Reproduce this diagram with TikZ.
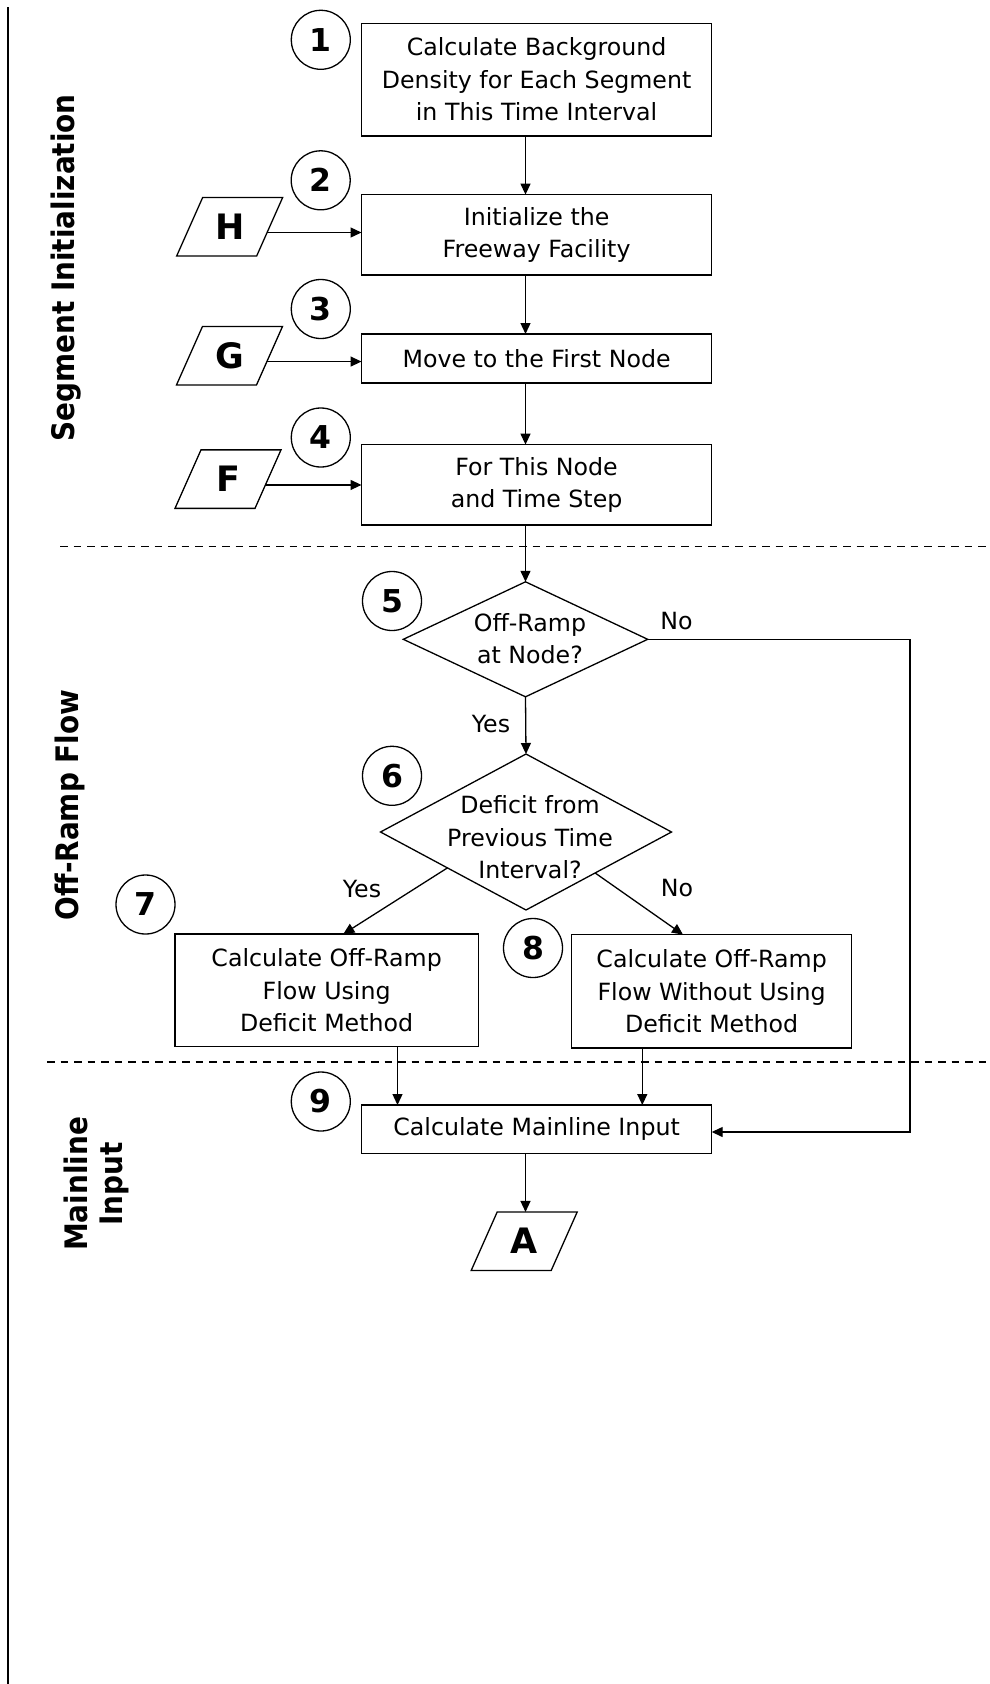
\documentclass[tikz,border=0pt]{standalone}
\usepackage{fontspec}
\setmainfont{DejaVu Sans}
\usetikzlibrary{arrows.meta,calc}

% type sizes (1pt = one unit of the drawing grid)
\newcommand\bodytext{\fontsize{23.7}{32.5}\selectfont}
\newcommand\numtext{\fontsize{31.5}{36}\selectfont\bfseries}
\newcommand\lettertext{\fontsize{35}{40}\selectfont\bfseries}
\newcommand\lanetext{\fontsize{31}{35.5}\selectfont\bfseries}
\newcommand\lanebox[1]{\scalebox{0.9}[1]{#1}}

\begin{document}
\begin{tikzpicture}[x=1pt,y=-1pt,
  every node/.style={inner sep=0pt, outer sep=0pt},
  lw/.style={line width=1.3pt},
  arr/.style={lw, -{Triangle[length=11pt,width=10pt]}},
  proc/.style={draw, lw, align=center, font=\bodytext},
  stepnum/.style={circle, draw, lw, minimum size=59pt, font=\numtext},
  io/.style={minimum width=106pt, minimum height=58.5pt, font=\lettertext},
  choice/.style={align=center, font=\bodytext},
  answer/.style={font=\bodytext},
  lane/.style={rotate=90, anchor=base, align=center, font=\lanetext},
  divider/.style={line width=1.2pt, dash pattern=on 7.5pt off 6pt}]

\fill[white] (0,0) rectangle (989,1684);
\useasboundingbox (0,0) rectangle (989,1684);

% lane rule and lane dividers
\draw[line width=2.3pt] (8,7) -- (8,1684);
\draw[divider] (60,546.4) -- (989,546.4);
\draw[divider] (47,1062) -- (989,1062);

% lane titles (base anchor of a two-line title sits on its last line)
\node[lane] (laneA) at (74.4,268) {\lanebox{Segment Initialization}};
\node[lane] (laneB) at (78.9,805) {\lanebox{Off-Ramp Flow}};
\node[lane] (laneC) at (122.5,1184) {\lanebox{Mainline}\\\lanebox{Input}};

% process boxes
\node[proc, minimum width=350.2pt, minimum height=112.8pt] (box1) at (536.6,79.6)
  {Calculate Background\\Density for Each Segment\\in This Time Interval};
\node[proc, minimum width=350.2pt, minimum height=80.4pt] (box2) at (536.6,234.8)
  {Initialize the\\Freeway Facility};
\node[proc, minimum width=350.2pt, minimum height=49pt] (box3) at (536.6,358.5)
  {Move to the First Node};
\node[proc, minimum width=350.2pt, minimum height=80.4pt] (box4) at (536.6,484.8)
  {For This Node\\and Time Step};
\node[proc, minimum width=303.3pt, minimum height=112.7pt] (box7) at (326.65,990.35)
  {Calculate Off-Ramp\\Flow Using\\Deficit Method};
\node[proc, minimum width=280.1pt, minimum height=113.3pt] (box8) at (711.65,991.25)
  {Calculate Off-Ramp\\Flow Without Using\\Deficit Method};
\node[proc, minimum width=350.2pt, minimum height=48.3pt] (box9) at (536.6,1129.15)
  {Calculate Mainline Input};

% decisions
\node[minimum width=244.4pt, minimum height=115pt] (d5) at (525.5,639.3) {};
\node[minimum width=291pt, minimum height=156pt] (d6) at (526,832) {};
\foreach \d in {d5,d6}
  \draw[lw] (\d.north) -- (\d.east) -- (\d.south) -- (\d.west) -- cycle;
\node[choice] (d5text) at (530,638.6) {Off-Ramp\\at Node?};
\node[choice] (d6text) at (530,837.4) {Deficit from\\Previous Time\\Interval?};

% data inputs and off-page connector
\node[io] (H) at (229.7,226.65) {H};
\node[io] (G) at (229.5,355.7) {G};
\node[io] (F) at (228,479.1) {F};
\node[io] (A) at (524.2,1241.2) {A};
\foreach \n in {H,G,F,A}
  \draw[lw] ($(\n.north west)+(26,0)$) -- (\n.north east)
    -- ($(\n.south east)+(-26,0)$) -- (\n.south west) -- cycle;

% step numbers
\node[stepnum] (n1) at (320.8,39.8) {1};
\node[stepnum] (n2) at (320.7,180.3) {2};
\node[stepnum] (n3) at (320.8,309) {3};
\node[stepnum] (n4) at (320.8,437.5) {4};
\node[stepnum] (n5) at (392,601) {5};
\node[stepnum] (n6) at (392,775.8) {6};
\node[stepnum] (n7) at (145.5,904.5) {7};
\node[stepnum] (n8) at (533,948) {8};
\node[stepnum] (n9) at (320.8,1101.5) {9};

% branch labels
\node[answer] (yes5) at (491,724) {Yes};
\node[answer] (no5) at (676.5,621) {No};
\node[answer] (yes6) at (362,888.7) {Yes};
\node[answer] (no6) at (677,888) {No};

% main spine
\coordinate (spine) at (525.5,0);
\draw[arr] (box1.south -| spine) -- (box2.north -| spine);
\draw[arr] (box2.south -| spine) -- (box3.north -| spine);
\draw[arr] (box3.south -| spine) -- (box4.north -| spine);
\draw[arr] (box4.south -| spine) -- (d5.north);
\draw[arr] (d5.south) -- (d6.north);
\draw[arr] (box9.south -| spine) -- (A.north -| spine);

% inputs feeding the first steps
\foreach \n/\b in {H/box2,G/box3,F/box4} {
  \coordinate (\n out) at ($(\n.north east)!0.6!(\n.south east)+(-15.6,0)$);
  \draw[arr] (\n out) -- (\n out -| \b.west);
}

% branches of the deficit test
\draw[arr] ($(d6.west)!0.46!(d6.south)$) -- ($(box7.north west)+(168.3,0)$);
\draw[arr] ($(d6.east)!0.525!(d6.south)$) -- ($(box8.north west)+(111.4,0)$);

% off-ramp results into the mainline step
\coordinate (drop7) at (397.5,0);
\coordinate (drop8) at (642.3,0);
\draw[arr] (box7.south -| drop7) -- (box9.north -| drop7);
\draw[arr] (box8.south -| drop8) -- (box9.north -| drop8);

% no off-ramp: straight to the mainline step
\coordinate (ret) at (910,1132);
\draw[arr] (d5.east) -- (d5.east -| ret) -- (ret) -- (ret -| box9.east);

\end{tikzpicture}
\end{document}
